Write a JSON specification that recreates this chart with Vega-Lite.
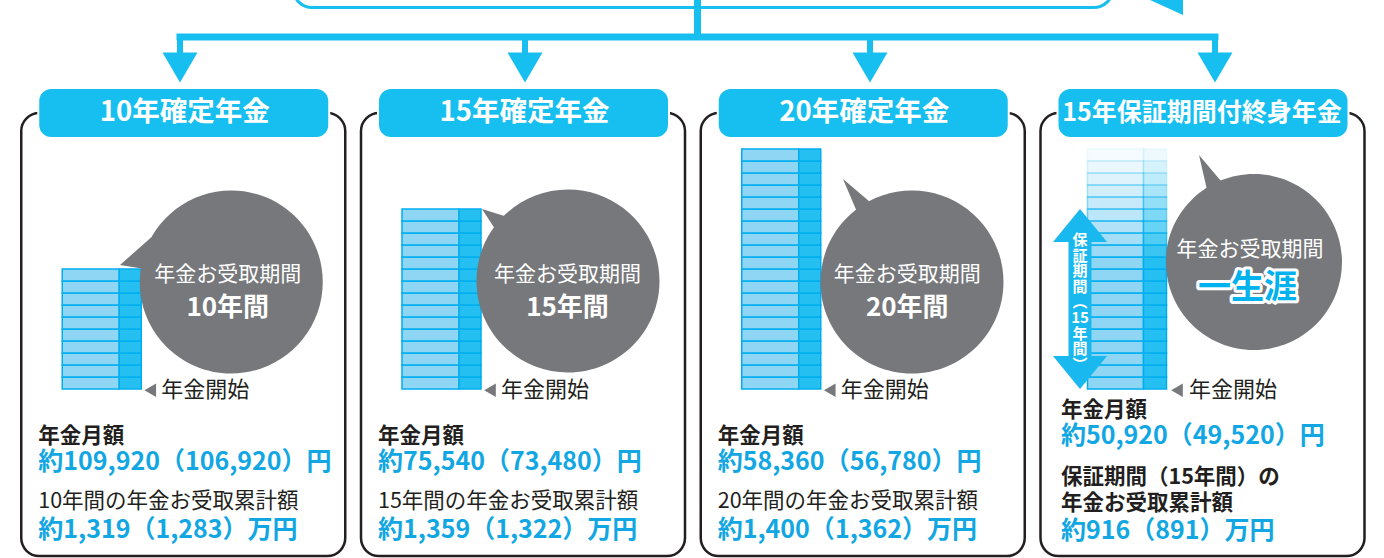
{
  "$schema": "https://vega.github.io/schema/vega-lite/v6.json",
  "width": 1384,
  "height": 558,
  "padding": 0,
  "autosize": {"type": "none"},
  "background": "white",
  "config": {"view": {"stroke": null}, "text": {"font": "Noto Sans CJK JP"}},
  "datasets": {
    "panels": [
      {"panel": 1, "title": "10年確定年金", "years": 10, "bubbleTitle": "年金お受取期間", "period": "10年間", "start": "年金開始", "monthlyLabel": "年金月額", "monthly": "約109,920（106,920）円", "totalLabel": "10年間の年金お受取累計額", "total": "約1,319（1,283）万円"},
      {"panel": 2, "title": "15年確定年金", "years": 15, "bubbleTitle": "年金お受取期間", "period": "15年間", "start": "年金開始", "monthlyLabel": "年金月額", "monthly": "約75,540（73,480）円", "totalLabel": "15年間の年金お受取累計額", "total": "約1,359（1,322）万円"},
      {"panel": 3, "title": "20年確定年金", "years": 20, "bubbleTitle": "年金お受取期間", "period": "20年間", "start": "年金開始", "monthlyLabel": "年金月額", "monthly": "約58,360（56,780）円", "totalLabel": "20年間の年金お受取累計額", "total": "約1,400（1,362）万円"},
      {"panel": 4, "title": "15年保証期間付終身年金", "years": null, "guarantee": 15, "guaranteeLabel": "保\n証\n期\n間\n︵\n15\n年\n間\n︶", "bubbleTitle": "年金お受取期間", "period": "一生涯", "start": "年金開始", "monthlyLabel": "年金月額", "monthly": "約50,920（49,520）円", "totalLabel": "保証期間（15年間）の\n年金お受取累計額", "total": "約916（891）万円"}
    ],
    "cells": [
      {"panel": 1, "year": 1}, {"panel": 1, "year": 2}, {"panel": 1, "year": 3}, {"panel": 1, "year": 4}, {"panel": 1, "year": 5},
      {"panel": 1, "year": 6}, {"panel": 1, "year": 7}, {"panel": 1, "year": 8}, {"panel": 1, "year": 9}, {"panel": 1, "year": 10},
      {"panel": 2, "year": 1}, {"panel": 2, "year": 2}, {"panel": 2, "year": 3}, {"panel": 2, "year": 4}, {"panel": 2, "year": 5},
      {"panel": 2, "year": 6}, {"panel": 2, "year": 7}, {"panel": 2, "year": 8}, {"panel": 2, "year": 9}, {"panel": 2, "year": 10},
      {"panel": 2, "year": 11}, {"panel": 2, "year": 12}, {"panel": 2, "year": 13}, {"panel": 2, "year": 14}, {"panel": 2, "year": 15},
      {"panel": 3, "year": 1}, {"panel": 3, "year": 2}, {"panel": 3, "year": 3}, {"panel": 3, "year": 4}, {"panel": 3, "year": 5},
      {"panel": 3, "year": 6}, {"panel": 3, "year": 7}, {"panel": 3, "year": 8}, {"panel": 3, "year": 9}, {"panel": 3, "year": 10},
      {"panel": 3, "year": 11}, {"panel": 3, "year": 12}, {"panel": 3, "year": 13}, {"panel": 3, "year": 14}, {"panel": 3, "year": 15},
      {"panel": 3, "year": 16}, {"panel": 3, "year": 17}, {"panel": 3, "year": 18}, {"panel": 3, "year": 19}, {"panel": 3, "year": 20},
      {"panel": 4, "year": 1}, {"panel": 4, "year": 2}, {"panel": 4, "year": 3}, {"panel": 4, "year": 4}, {"panel": 4, "year": 5},
      {"panel": 4, "year": 6}, {"panel": 4, "year": 7}, {"panel": 4, "year": 8}, {"panel": 4, "year": 9}, {"panel": 4, "year": 10},
      {"panel": 4, "year": 11}, {"panel": 4, "year": 12}, {"panel": 4, "year": 13}, {"panel": 4, "year": 14}, {"panel": 4, "year": 15},
      {"panel": 4, "year": 16}, {"panel": 4, "year": 17}, {"panel": 4, "year": 18}, {"panel": 4, "year": 19}, {"panel": 4, "year": 20}
    ]
  },
  "resolve": {"scale": {"x": "independent"}},
  "layer": [
    {
      "data": {"name": "panels"},
      "layer": [
        {
          "transform": [{"filter": "datum.panel == 1"}],
          "mark": {"type": "rect", "fill": "white", "stroke": "#17bff0", "strokeWidth": 3, "cornerRadius": 22},
          "encoding": {
            "x": {"datum": 1.3275, "type": "quantitative", "scale": {"domain": [0.47826, 4.48986], "nice": false, "zero": false}, "axis": null},
            "x2": {"datum": 3.7043},
            "y": {"datum": 35, "type": "quantitative", "scale": {"domain": [-14.0833, 32.4167], "nice": false, "zero": false}, "axis": null},
            "y2": {"datum": 31.79}
          }
        },
        {
          "transform": [{"filter": "datum.panel == 1"}],
          "mark": {"type": "point", "filled": true, "opacity": 1, "color": "#17bff0", "strokeWidth": 0, "size": 10000, "shape": "M -0.8 -0.35 L 0.3 -0.35 L 0.3 0.15 Z"},
          "encoding": {
            "x": {"datum": 3.8638, "type": "quantitative", "scale": {"domain": [0.47826, 4.48986], "nice": false, "zero": false}, "axis": null},
            "y": {"datum": 31.79, "type": "quantitative", "scale": {"domain": [-14.0833, 32.4167], "nice": false, "zero": false}, "axis": null}
          }
        },
        {
          "transform": [{"filter": "datum.panel == 1"}],
          "mark": {"type": "rule", "color": "#17bff0", "strokeWidth": 7},
          "encoding": {
            "x": {"datum": 2.5, "type": "quantitative", "scale": {"domain": [0.47826, 4.48986], "nice": false, "zero": false}, "axis": null},
            "y": {"datum": 33, "type": "quantitative", "scale": {"domain": [-14.0833, 32.4167], "nice": false, "zero": false}, "axis": null},
            "y2": {"datum": 29.33}
          }
        },
        {
          "transform": [{"filter": "datum.panel == 1"}],
          "mark": {"type": "rule", "color": "#17bff0", "strokeWidth": 7, "strokeCap": "square"},
          "encoding": {
            "x": {"datum": 1, "type": "quantitative", "scale": {"domain": [0.47826, 4.48986], "nice": false, "zero": false}, "axis": null},
            "x2": {"datum": 4},
            "y": {"datum": 29.33, "type": "quantitative", "scale": {"domain": [-14.0833, 32.4167], "nice": false, "zero": false}, "axis": null}
          }
        },
        {
          "mark": {"type": "rule", "color": "#17bff0", "strokeWidth": 6},
          "encoding": {
            "x": {"field": "panel", "type": "quantitative", "scale": {"domain": [0.47826, 4.48986], "nice": false, "zero": false}, "axis": null},
            "y": {"datum": 29.33, "type": "quantitative", "scale": {"domain": [-14.0833, 32.4167], "nice": false, "zero": false}, "axis": null},
            "y2": {"datum": 27.67}
          }
        },
        {
          "mark": {"type": "point", "filled": true, "opacity": 1, "color": "#17bff0", "strokeWidth": 0, "size": 1225, "shape": "M -1 -0.857 L 1 -0.857 L 0 0.857 Z"},
          "encoding": {
            "x": {"field": "panel", "type": "quantitative", "scale": {"domain": [0.47826, 4.48986], "nice": false, "zero": false}, "axis": null},
            "y": {"datum": 26.79, "type": "quantitative", "scale": {"domain": [-14.0833, 32.4167], "nice": false, "zero": false}, "axis": null}
          }
        }
      ]
    },
    {
      "layer": [
        {
          "data": {"name": "panels"},
          "mark": {"type": "rect", "fill": "white", "stroke": "#231f20", "strokeWidth": 2.5, "cornerRadius": 18, "xOffset": -162, "x2Offset": 162},
          "encoding": {
            "x": {"field": "panel", "type": "quantitative", "scale": {"domain": [0.46063, 4.53422], "nice": false, "zero": false}, "axis": null},
            "x2": {"field": "panel"},
            "y": {"datum": 23.0, "type": "quantitative", "scale": {"domain": [-14.0833, 32.4167], "nice": false, "zero": false}, "axis": null},
            "y2": {"datum": -13.92}
          }
        },
        {
          "data": {"name": "panels"},
          "mark": {"type": "rect", "fill": "#17bff0", "stroke": "white", "strokeWidth": 2, "cornerRadius": 13, "xOffset": -145, "x2Offset": 146},
          "encoding": {
            "x": {"field": "panel", "type": "quantitative", "scale": {"domain": [0.46063, 4.53422], "nice": false, "zero": false}, "axis": null},
            "x2": {"field": "panel"},
            "y": {"datum": 25.08, "type": "quantitative", "scale": {"domain": [-14.0833, 32.4167], "nice": false, "zero": false}, "axis": null},
            "y2": {"datum": 20.92}
          }
        },
        {
          "data": {"name": "panels"},
          "transform": [{"filter": "datum.panel <= 3"}],
          "mark": {"type": "text", "color": "white", "fontSize": 27.5, "fontWeight": "bold", "align": "center", "baseline": "middle", "xOffset": 1.5},
          "encoding": {
            "x": {"field": "panel", "type": "quantitative", "scale": {"domain": [0.46063, 4.53422], "nice": false, "zero": false}, "axis": null},
            "y": {"datum": 23.0, "type": "quantitative", "scale": {"domain": [-14.0833, 32.4167], "nice": false, "zero": false}, "axis": null},
            "text": {"field": "title"}
          }
        },
        {
          "data": {"name": "panels"},
          "transform": [{"filter": "datum.panel == 4"}],
          "mark": {"type": "text", "color": "white", "fontSize": 25, "fontWeight": "bold", "align": "center", "baseline": "middle", "xOffset": -0.5},
          "encoding": {
            "x": {"field": "panel", "type": "quantitative", "scale": {"domain": [0.46063, 4.53422], "nice": false, "zero": false}, "axis": null},
            "y": {"datum": 23.0, "type": "quantitative", "scale": {"domain": [-14.0833, 32.4167], "nice": false, "zero": false}, "axis": null},
            "text": {"field": "title"}
          }
        },
        {
          "data": {"name": "cells"},
          "transform": [{"filter": "datum.panel <= 3"}],
          "mark": {"type": "rect", "fill": "#8fd6f5", "stroke": "#00aeef", "strokeWidth": 1.5, "xOffset": -121, "x2Offset": -64, "y2Offset": 12},
          "encoding": {
            "x": {"field": "panel", "type": "quantitative", "scale": {"domain": [0.46063, 4.53422], "nice": false, "zero": false}, "axis": null},
            "x2": {"field": "panel"},
            "y": {"field": "year", "type": "quantitative", "scale": {"domain": [-14.0833, 32.4167], "nice": false, "zero": false}, "axis": null},
            "y2": {"field": "year"}
          }
        },
        {
          "data": {"name": "cells"},
          "transform": [{"filter": "datum.panel <= 3"}],
          "mark": {"type": "rect", "fill": "#25c0f1", "stroke": "#00aeef", "strokeWidth": 1.5, "xOffset": -64, "x2Offset": -42, "y2Offset": 12},
          "encoding": {
            "x": {"field": "panel", "type": "quantitative", "scale": {"domain": [0.46063, 4.53422], "nice": false, "zero": false}, "axis": null},
            "x2": {"field": "panel"},
            "y": {"field": "year", "type": "quantitative", "scale": {"domain": [-14.0833, 32.4167], "nice": false, "zero": false}, "axis": null},
            "y2": {"field": "year"}
          }
        },
        {
          "data": {"name": "cells"},
          "transform": [{"filter": "datum.panel == 4"}],
          "mark": {"type": "rect", "fill": "#8fd6f5", "stroke": "#00aeef", "strokeWidth": 1.5, "xOffset": -115, "x2Offset": -59, "y2Offset": 12},
          "encoding": {
            "x": {"field": "panel", "type": "quantitative", "scale": {"domain": [0.46063, 4.53422], "nice": false, "zero": false}, "axis": null},
            "x2": {"field": "panel"},
            "y": {"field": "year", "type": "quantitative", "scale": {"domain": [-14.0833, 32.4167], "nice": false, "zero": false}, "axis": null},
            "y2": {"field": "year"},
            "opacity": {"field": "year", "type": "quantitative", "scale": {"domain": [11, 20], "range": [1, 0.08], "clamp": true}, "legend": null}
          }
        },
        {
          "data": {"name": "cells"},
          "transform": [{"filter": "datum.panel == 4"}],
          "mark": {"type": "rect", "fill": "#25c0f1", "stroke": "#00aeef", "strokeWidth": 1.5, "xOffset": -59, "x2Offset": -36, "y2Offset": 12},
          "encoding": {
            "x": {"field": "panel", "type": "quantitative", "scale": {"domain": [0.46063, 4.53422], "nice": false, "zero": false}, "axis": null},
            "x2": {"field": "panel"},
            "y": {"field": "year", "type": "quantitative", "scale": {"domain": [-14.0833, 32.4167], "nice": false, "zero": false}, "axis": null},
            "y2": {"field": "year"},
            "opacity": {"field": "year", "type": "quantitative", "scale": {"domain": [11, 20], "range": [1, 0.08], "clamp": true}, "legend": null}
          }
        },
        {
          "data": {"name": "panels"},
          "transform": [{"filter": "datum.panel == 4"}],
          "mark": {"type": "rule", "color": "#19b8ee", "strokeWidth": 23, "xOffset": -122.5},
          "encoding": {
            "x": {"field": "panel", "type": "quantitative", "scale": {"domain": [0.46063, 4.53422], "nice": false, "zero": false}, "axis": null},
            "y": {"datum": 2, "type": "quantitative", "scale": {"domain": [-14.0833, 32.4167], "nice": false, "zero": false}, "axis": null},
            "y2": {"datum": 13}
          }
        },
        {
          "data": {"name": "panels"},
          "transform": [{"filter": "datum.panel == 4"}],
          "mark": {"type": "point", "filled": true, "opacity": 1, "color": "#19b8ee", "strokeWidth": 0, "size": 2916, "shape": "M 0 0 L 1 1.22 L -1 1.22 Z", "xOffset": -122.5},
          "encoding": {
            "x": {"field": "panel", "type": "quantitative", "scale": {"domain": [0.46063, 4.53422], "nice": false, "zero": false}, "axis": null},
            "y": {"field": "guarantee", "type": "quantitative", "scale": {"domain": [-14.0833, 32.4167], "nice": false, "zero": false}, "axis": null}
          }
        },
        {
          "data": {"name": "panels"},
          "transform": [{"filter": "datum.panel == 4"}],
          "mark": {"type": "point", "filled": true, "opacity": 1, "color": "#19b8ee", "strokeWidth": 0, "size": 2916, "shape": "M 0 0 L -1 -1.22 L 1 -1.22 Z", "xOffset": -122.5},
          "encoding": {
            "x": {"field": "panel", "type": "quantitative", "scale": {"domain": [0.46063, 4.53422], "nice": false, "zero": false}, "axis": null},
            "y": {"datum": 0, "type": "quantitative", "scale": {"domain": [-14.0833, 32.4167], "nice": false, "zero": false}, "axis": null}
          }
        },
        {
          "data": {"name": "panels"},
          "transform": [{"filter": "datum.panel == 4"}],
          "mark": {"type": "text", "color": "white", "fontSize": 15, "fontWeight": "bold", "align": "center", "baseline": "top", "lineBreak": "\n", "lineHeight": 15.6, "xOffset": -122.5},
          "encoding": {
            "x": {"field": "panel", "type": "quantitative", "scale": {"domain": [0.46063, 4.53422], "nice": false, "zero": false}, "axis": null},
            "y": {"datum": 13.0, "type": "quantitative", "scale": {"domain": [-14.0833, 32.4167], "nice": false, "zero": false}, "axis": null},
            "text": {"field": "guaranteeLabel"}
          }
        },
        {
          "data": {"name": "panels"},
          "mark": {"type": "point", "filled": true, "opacity": 1, "color": "#77787b", "strokeWidth": 0, "size": 40000, "xOffset": 48},
          "encoding": {
            "x": {"field": "panel", "type": "quantitative", "scale": {"domain": [0.46063, 4.53422], "nice": false, "zero": false}, "axis": null},
            "y": {"datum": 8.917, "type": "quantitative", "scale": {"domain": [-14.0833, 32.4167], "nice": false, "zero": false}, "axis": null},
            "shape": {"field": "panel", "type": "nominal", "legend": null, "scale": {"domain": [1, 2, 3, 4], "range": [
              "M -0.915 0 A 0.915 0.915 0 1 1 0.915 0 A 0.915 0.915 0 1 1 -0.915 0 Z M -1.1125 -0.17 L -0.74 -0.5 L -0.8 -0.12 Z",
              "M -0.945 -0.01 A 0.915 0.915 0 1 1 0.885 -0.01 A 0.915 0.915 0 1 1 -0.945 -0.01 Z M -0.89 -0.73 L -0.6 -0.64 L -0.74 -0.5 Z",
              "M -0.9025 0 A 0.915 0.915 0 1 1 0.9275 0 A 0.915 0.915 0 1 1 -0.9025 0 Z M -0.6775 -1.03 L -0.36 -0.76 L -0.52 -0.66 Z",
              "M -0.845 -0.2 A 0.88 0.88 0 1 1 0.915 -0.2 A 0.88 0.88 0 1 1 -0.845 -0.2 Z M -0.515 -1.27 L -0.27 -0.98 L -0.43 -0.9 Z"
            ]}}
          }
        },
        {
          "data": {"name": "panels"},
          "transform": [{"filter": "datum.panel <= 3"}],
          "mark": {"type": "text", "color": "white", "fontSize": 21, "align": "center", "baseline": "middle", "xOffset": 44.5},
          "encoding": {
            "x": {"field": "panel", "type": "quantitative", "scale": {"domain": [0.46063, 4.53422], "nice": false, "zero": false}, "axis": null},
            "y": {"datum": 9.5, "type": "quantitative", "scale": {"domain": [-14.0833, 32.4167], "nice": false, "zero": false}, "axis": null},
            "text": {"field": "bubbleTitle"}
          }
        },
        {
          "data": {"name": "panels"},
          "transform": [{"filter": "datum.panel <= 3"}],
          "mark": {"type": "text", "color": "white", "fontSize": 26, "fontWeight": "bold", "align": "center", "baseline": "middle", "xOffset": 44.5},
          "encoding": {
            "x": {"field": "panel", "type": "quantitative", "scale": {"domain": [0.46063, 4.53422], "nice": false, "zero": false}, "axis": null},
            "y": {"datum": 6.71, "type": "quantitative", "scale": {"domain": [-14.0833, 32.4167], "nice": false, "zero": false}, "axis": null},
            "text": {"field": "period"}
          }
        },
        {
          "data": {"name": "panels"},
          "transform": [{"filter": "datum.panel == 4"}],
          "mark": {"type": "text", "color": "white", "fontSize": 21, "align": "center", "baseline": "middle", "xOffset": 47.5},
          "encoding": {
            "x": {"field": "panel", "type": "quantitative", "scale": {"domain": [0.46063, 4.53422], "nice": false, "zero": false}, "axis": null},
            "y": {"datum": 11.58, "type": "quantitative", "scale": {"domain": [-14.0833, 32.4167], "nice": false, "zero": false}, "axis": null},
            "text": {"field": "bubbleTitle"}
          }
        },
        {
          "data": {"name": "panels"},
          "transform": [{"filter": "datum.panel == 4"}],
          "mark": {"type": "text", "fill": "white", "stroke": "white", "strokeWidth": 6, "strokeJoin": "round", "fontSize": 33, "fontWeight": "bold", "align": "center", "baseline": "middle", "xOffset": 45},
          "encoding": {
            "x": {"field": "panel", "type": "quantitative", "scale": {"domain": [0.46063, 4.53422], "nice": false, "zero": false}, "axis": null},
            "y": {"datum": 8.39, "type": "quantitative", "scale": {"domain": [-14.0833, 32.4167], "nice": false, "zero": false}, "axis": null},
            "text": {"field": "period"}
          }
        },
        {
          "data": {"name": "panels"},
          "transform": [{"filter": "datum.panel == 4"}],
          "mark": {"type": "text", "color": "#00b2ee", "fontSize": 33, "fontWeight": "bold", "align": "center", "baseline": "middle", "xOffset": 45},
          "encoding": {
            "x": {"field": "panel", "type": "quantitative", "scale": {"domain": [0.46063, 4.53422], "nice": false, "zero": false}, "axis": null},
            "y": {"datum": 8.39, "type": "quantitative", "scale": {"domain": [-14.0833, 32.4167], "nice": false, "zero": false}, "axis": null},
            "text": {"field": "period"}
          }
        },
        {
          "data": {"name": "panels"},
          "transform": [{"filter": "datum.panel <= 3"}],
          "mark": {"type": "point", "shape": "triangle-left", "filled": true, "opacity": 1, "color": "#77787b", "strokeWidth": 0, "size": 180, "xOffset": -33},
          "encoding": {
            "x": {"field": "panel", "type": "quantitative", "scale": {"domain": [0.46063, 4.53422], "nice": false, "zero": false}, "axis": null},
            "y": {"datum": -0.1, "type": "quantitative", "scale": {"domain": [-14.0833, 32.4167], "nice": false, "zero": false}, "axis": null}
          }
        },
        {
          "data": {"name": "panels"},
          "transform": [{"filter": "datum.panel == 4"}],
          "mark": {"type": "point", "shape": "triangle-left", "filled": true, "opacity": 1, "color": "#77787b", "strokeWidth": 0, "size": 180, "xOffset": -25.5},
          "encoding": {
            "x": {"field": "panel", "type": "quantitative", "scale": {"domain": [0.46063, 4.53422], "nice": false, "zero": false}, "axis": null},
            "y": {"datum": -0.1, "type": "quantitative", "scale": {"domain": [-14.0833, 32.4167], "nice": false, "zero": false}, "axis": null}
          }
        },
        {
          "data": {"name": "panels"},
          "transform": [{"filter": "datum.panel <= 3"}],
          "mark": {"type": "text", "color": "#231f20", "fontSize": 22, "align": "left", "baseline": "middle", "xOffset": -22},
          "encoding": {
            "x": {"field": "panel", "type": "quantitative", "scale": {"domain": [0.46063, 4.53422], "nice": false, "zero": false}, "axis": null},
            "y": {"datum": -0.1, "type": "quantitative", "scale": {"domain": [-14.0833, 32.4167], "nice": false, "zero": false}, "axis": null},
            "text": {"field": "start"}
          }
        },
        {
          "data": {"name": "panels"},
          "transform": [{"filter": "datum.panel == 4"}],
          "mark": {"type": "text", "color": "#231f20", "fontSize": 22, "align": "left", "baseline": "middle", "xOffset": -13.5},
          "encoding": {
            "x": {"field": "panel", "type": "quantitative", "scale": {"domain": [0.46063, 4.53422], "nice": false, "zero": false}, "axis": null},
            "y": {"datum": -0.1, "type": "quantitative", "scale": {"domain": [-14.0833, 32.4167], "nice": false, "zero": false}, "axis": null},
            "text": {"field": "start"}
          }
        },
        {
          "data": {"name": "panels"},
          "transform": [{"filter": "datum.panel <= 3"}],
          "mark": {"type": "text", "color": "#231f20", "fontSize": 21.5, "fontWeight": "bold", "align": "left", "baseline": "middle", "xOffset": -145},
          "encoding": {
            "x": {"field": "panel", "type": "quantitative", "scale": {"domain": [0.46063, 4.53422], "nice": false, "zero": false}, "axis": null},
            "y": {"datum": -4.0, "type": "quantitative", "scale": {"domain": [-14.0833, 32.4167], "nice": false, "zero": false}, "axis": null},
            "text": {"field": "monthlyLabel"}
          }
        },
        {
          "data": {"name": "panels"},
          "transform": [{"filter": "datum.panel <= 3"}],
          "mark": {"type": "text", "color": "#12a7e3", "fontSize": 25, "fontWeight": "bold", "align": "left", "baseline": "middle", "xOffset": -145},
          "encoding": {
            "x": {"field": "panel", "type": "quantitative", "scale": {"domain": [0.46063, 4.53422], "nice": false, "zero": false}, "axis": null},
            "y": {"datum": -6.08, "type": "quantitative", "scale": {"domain": [-14.0833, 32.4167], "nice": false, "zero": false}, "axis": null},
            "text": {"field": "monthly"}
          }
        },
        {
          "data": {"name": "panels"},
          "transform": [{"filter": "datum.panel <= 3"}],
          "mark": {"type": "text", "color": "#231f20", "fontSize": 21.5, "align": "left", "baseline": "middle", "xOffset": -145},
          "encoding": {
            "x": {"field": "panel", "type": "quantitative", "scale": {"domain": [0.46063, 4.53422], "nice": false, "zero": false}, "axis": null},
            "y": {"datum": -9.42, "type": "quantitative", "scale": {"domain": [-14.0833, 32.4167], "nice": false, "zero": false}, "axis": null},
            "text": {"field": "totalLabel"}
          }
        },
        {
          "data": {"name": "panels"},
          "transform": [{"filter": "datum.panel <= 3"}],
          "mark": {"type": "text", "color": "#12a7e3", "fontSize": 25, "fontWeight": "bold", "align": "left", "baseline": "middle", "xOffset": -145},
          "encoding": {
            "x": {"field": "panel", "type": "quantitative", "scale": {"domain": [0.46063, 4.53422], "nice": false, "zero": false}, "axis": null},
            "y": {"datum": -11.75, "type": "quantitative", "scale": {"domain": [-14.0833, 32.4167], "nice": false, "zero": false}, "axis": null},
            "text": {"field": "total"}
          }
        },
        {
          "data": {"name": "panels"},
          "transform": [{"filter": "datum.panel == 4"}],
          "mark": {"type": "text", "color": "#231f20", "fontSize": 21.5, "fontWeight": "bold", "align": "left", "baseline": "middle", "xOffset": -141.5},
          "encoding": {
            "x": {"field": "panel", "type": "quantitative", "scale": {"domain": [0.46063, 4.53422], "nice": false, "zero": false}, "axis": null},
            "y": {"datum": -1.83, "type": "quantitative", "scale": {"domain": [-14.0833, 32.4167], "nice": false, "zero": false}, "axis": null},
            "text": {"field": "monthlyLabel"}
          }
        },
        {
          "data": {"name": "panels"},
          "transform": [{"filter": "datum.panel == 4"}],
          "mark": {"type": "text", "color": "#12a7e3", "fontSize": 25, "fontWeight": "bold", "align": "left", "baseline": "middle", "xOffset": -141.5},
          "encoding": {
            "x": {"field": "panel", "type": "quantitative", "scale": {"domain": [0.46063, 4.53422], "nice": false, "zero": false}, "axis": null},
            "y": {"datum": -3.92, "type": "quantitative", "scale": {"domain": [-14.0833, 32.4167], "nice": false, "zero": false}, "axis": null},
            "text": {"field": "monthly"}
          }
        },
        {
          "data": {"name": "panels"},
          "transform": [{"filter": "datum.panel == 4"}],
          "mark": {"type": "text", "color": "#231f20", "fontSize": 21.5, "fontWeight": "bold", "align": "left", "baseline": "top", "lineBreak": "\n", "lineHeight": 26, "xOffset": -141.5},
          "encoding": {
            "x": {"field": "panel", "type": "quantitative", "scale": {"domain": [0.46063, 4.53422], "nice": false, "zero": false}, "axis": null},
            "y": {"datum": -6.47, "type": "quantitative", "scale": {"domain": [-14.0833, 32.4167], "nice": false, "zero": false}, "axis": null},
            "text": {"field": "totalLabel"}
          }
        },
        {
          "data": {"name": "panels"},
          "transform": [{"filter": "datum.panel == 4"}],
          "mark": {"type": "text", "color": "#12a7e3", "fontSize": 25, "fontWeight": "bold", "align": "left", "baseline": "middle", "xOffset": -141.5},
          "encoding": {
            "x": {"field": "panel", "type": "quantitative", "scale": {"domain": [0.46063, 4.53422], "nice": false, "zero": false}, "axis": null},
            "y": {"datum": -11.83, "type": "quantitative", "scale": {"domain": [-14.0833, 32.4167], "nice": false, "zero": false}, "axis": null},
            "text": {"field": "total"}
          }
        }
      ]
    }
  ]
}
